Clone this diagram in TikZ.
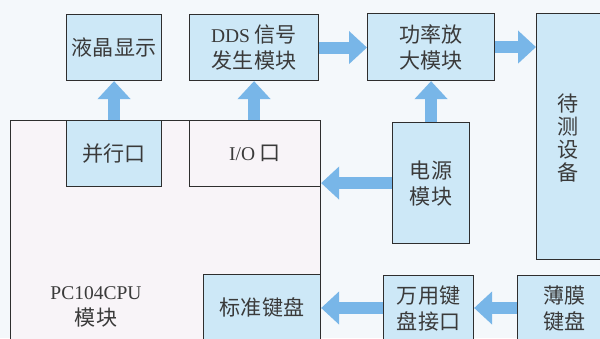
\documentclass[tikz,border=0pt]{standalone}
\usepackage{fontspec}
\setmainfont{Liberation Serif}
\newfontfamily\cjk[Scale=1.08]{Noto Sans CJK SC}
\usetikzlibrary{arrows.meta,calc}
\pgfdeclarelayer{background}
\pgfsetlayers{background,main}
\definecolor{pagebg}{HTML}{F4F8FB}
\definecolor{cpubg}{HTML}{F8F4F8}
\definecolor{boxfill}{HTML}{CDE8F7}
\definecolor{arrowfill}{HTML}{78B6E8}
\definecolor{linecol}{HTML}{2E2E2E}
\definecolor{txtcol}{HTML}{3A3A3A}
\tikzset{
  blk/.style={draw=linecol, line width=1.1pt, fill=boxfill, anchor=north west, inner sep=0pt,
    text=txtcol, align=center, font=\fontsize{19.5}{26}\selectfont},
  plain/.style={blk, fill=cpubg},
  txt/.style={text=txtcol, align=center, inner sep=0pt, font=\fontsize{19.5}{26}\selectfont},
  fat/.style={draw=arrowfill, line width=12pt, -{Triangle[length=18pt, width=32pt]}}
}
\begin{document}
\begin{tikzpicture}[x=1pt,y=-1pt]
\useasboundingbox (0,0) rectangle (600,338);
\clip (0,0) rectangle (600,338);
\begin{pgfonlayer}{background}
\fill[pagebg] (0,0) rectangle (600,338);
\end{pgfonlayer}
% boxes
\node[plain, minimum width=310pt, minimum height=260pt] (cpu) at (10,120) {};
\node[blk, minimum width=95pt, minimum height=66pt] (lcd) at (66,14) {\cjk 液晶显示};
\node[blk, minimum width=129pt, minimum height=66pt] (dds) at (189,14) {DDS {\cjk 信号}\\{\cjk 发生模块}};
\node[blk, minimum width=127pt, minimum height=67pt] (pa) at (367,13) {\cjk 功率放\\\cjk 大模块};
\node[blk, minimum width=100pt, minimum height=246pt] (dut) at (536,13) {};
\node[blk, minimum width=95pt, minimum height=66pt] (par) at (66,120) {\cjk 并行口};
\node[plain, minimum width=131pt, minimum height=66pt] (io) at (189,120) {I/O {\cjk 口}};
\node[blk, minimum width=77pt, minimum height=121pt] (pwr) at (392,122) {\cjk 电源\\\cjk 模块};
\node[blk, minimum width=117pt, minimum height=66pt] (kb) at (203,274) {\cjk 标准键盘};
\node[blk, minimum width=90pt, minimum height=66pt] (uni) at (383,275) {\cjk 万用键\\\cjk 盘接口};
\node[blk, minimum width=94pt, minimum height=66pt] (mem) at (517,275) {\cjk 薄膜\\\cjk 键盘};
% free texts
\node[txt] (duttxt) at (568,138) {\cjk 待\\[-3pt]\cjk 测\\[-3pt]\cjk 设\\[-3pt]\cjk 备};
\node[txt] (cputxt) at (96,307) {PC104CPU\\\cjk 模块};
\coordinate (kbrow) at (0,308);
% arrows
\begin{pgfonlayer}{background}
\draw[fat] (par.north) -- (lcd.south);
\draw[fat] (dds.south |- io.north) -- (dds.south);
\draw[fat] (dds.east) -- (pa.west |- dds.east);
\draw[fat] (pa.east) -- (dut.west |- pa.east);
\draw[fat] (pwr.north) -- (pa.south);
\draw[fat] (pwr.west) -- (io.east |- pwr.west);
\draw[fat] (uni.west |- kbrow) -- (kb.east |- kbrow);
\draw[fat] (mem.west |- kbrow) -- (uni.east |- kbrow);
\end{pgfonlayer}
\end{tikzpicture}
\end{document}
